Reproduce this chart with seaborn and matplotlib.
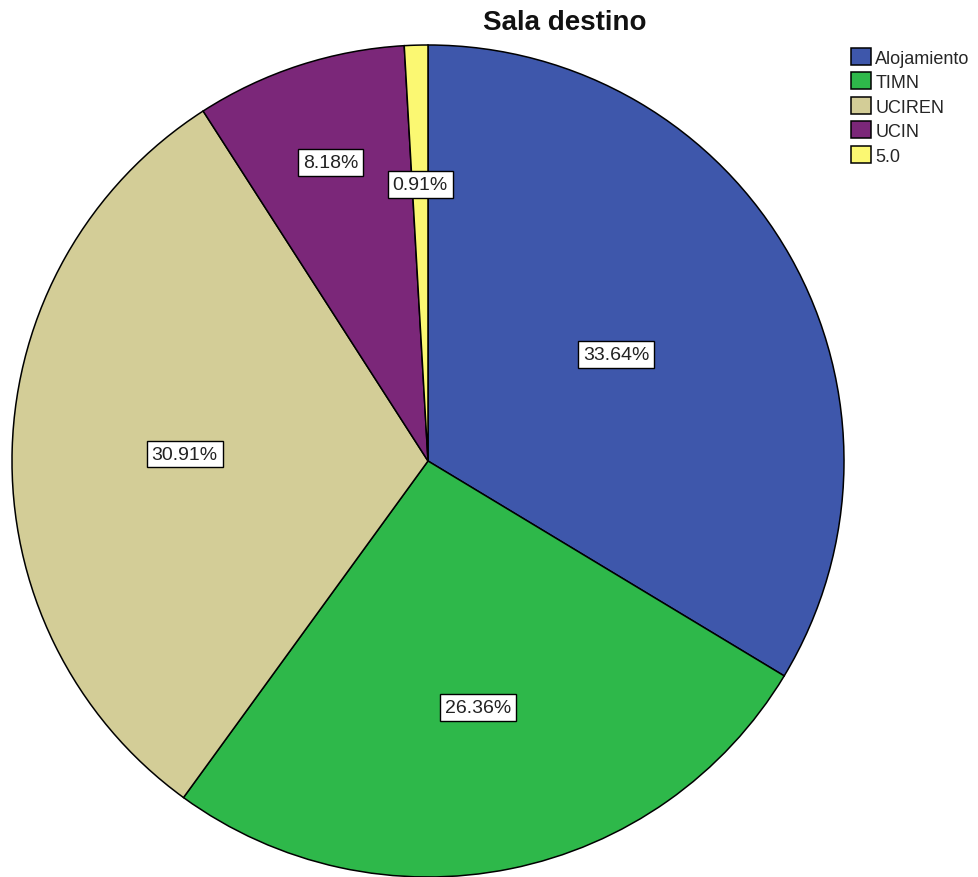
import matplotlib
matplotlib.use("Agg")
import matplotlib.pyplot as plt
import numpy as np
import seaborn as sns

# Destination ward distribution (percent of cases)
categories = ["Alojamiento", "TIMN", "UCIREN", "UCIN", "5.0"]
percentages = [33.64, 26.36, 30.91, 8.18, 0.91]
slice_colors = ["#3E57AB", "#2EB84A", "#D3CD97", "#7B2779", "#FBF872"]

# radial position of each percentage label, as a fraction of the radius
label_radius = [0.52, 0.605, 0.585, 0.755, 0.665]

sns.set_theme(style="white")
plt.rcParams["font.family"] = ["Liberation Sans", "DejaVu Sans"]

palette = sns.color_palette(slice_colors)

W, H = 979, 878
fig = plt.figure(figsize=(W / 100, H / 100), dpi=100)
cx, cy, R = 428, 462, 416
ax = fig.add_axes([(cx - R) / W, (H - cy - R) / H, 2 * R / W, 2 * R / H])

wedges, _ = ax.pie(
    percentages,
    colors=palette,
    startangle=90,
    counterclock=False,
    radius=1.0,
    wedgeprops=dict(edgecolor="black", linewidth=1.1),
)
for w in wedges:
    w.set_clip_on(False)
ax.set_xlim(-1, 1)
ax.set_ylim(-1, 1)
ax.axis("off")

for w, pct, r in zip(wedges, percentages, label_radius):
    mid = np.deg2rad((w.theta1 + w.theta2) / 2)
    ax.text(
        r * np.cos(mid), r * np.sin(mid), f"{pct:.2f}%",
        ha="center", va="center", fontsize=14, color="#222222",
        bbox=dict(boxstyle="square,pad=0.25", fc="white", ec="black", lw=1.0),
    )

fig.text(565 / W, 1 - 23 / H, "Sala destino", ha="center", va="center",
         fontsize=20, fontweight="bold", color="#111111")

leg = fig.legend(
    wedges, categories,
    loc="upper left", bbox_to_anchor=(851 / W, 1 - 49 / H),
    frameon=False, fontsize=13,
    handlelength=1.1, handleheight=1.05, handletextpad=0.25,
    labelspacing=0.33, borderpad=0.0, borderaxespad=0.0,
)

fig.savefig("out.png", dpi=100, facecolor="white")
